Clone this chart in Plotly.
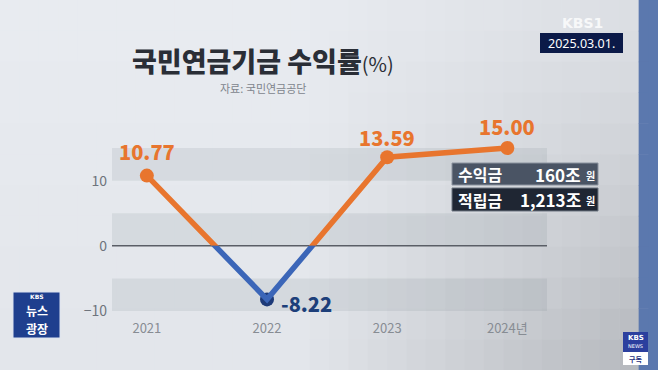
import plotly.graph_objects as go

years = ["2021", "2022", "2023", "2024년"]
returns = [10.77, -8.22, 13.59, 15.00]
value_labels = ["10.77", "-8.22", "13.59", "15.00"]
ytick_vals = [-10, 0, 10]
ytick_text = ["−10", "0", "10"]
title_text = "국민연금기금 수익률"
source_text = "자료: 국민연금공단"
date_text = "2025.03.01."
box_labels = ["수익금", "적립금"]
box_values = ["160조", "1,213조"]

W, H = 658, 370
ML, MR, MT, MB = 112, 111, 135, 59
PW, PH = W - ML - MR, H - MT - MB
YMIN, YMAX = -10, 17
z = (0 - YMIN) / (YMAX - YMIN)

def px(x):
    return (x - ML) / PW

def py(y):
    return (H - MB - y) / PH

ORANGE = "#E8752E"
BLUE = "#3B66B8"
NAVY = "#1D3A78"
FONT = "Noto Sans CJK KR"

xs = list(range(len(years)))
fig = go.Figure()
# orange part (clipped to above zero)
fig.add_trace(go.Scatter(x=xs, y=returns, mode="lines", line=dict(color=ORANGE, width=5.5),
                         yaxis="y2", hoverinfo="skip", showlegend=False))
# blue part (clipped to below zero)
fig.add_trace(go.Scatter(x=xs, y=returns, mode="lines", line=dict(color=BLUE, width=5.5),
                         yaxis="y3", hoverinfo="skip", showlegend=False))
# markers
mcolors = [ORANGE if v >= 0 else NAVY for v in returns]
fig.add_trace(go.Scatter(x=xs, y=returns, mode="markers", marker=dict(size=14, color=mcolors),
                         cliponaxis=False, showlegend=False))

shapes = []
# background gradient
nx, ny = 34, 12
cw, ch = W / nx, H / ny
for i in range(nx):
    for j in range(ny):
        cx, cy = (i + 0.5) * cw, (j + 0.5) * ch
        t = max(0.0, (cx - 300) / 350)
        u = cy / H
        d = 44 * t * (0.3 + 0.8 * u ** 1.3) + 6 * u
        r, g, b = int(233 - d), int(236 - d), int(241 - d)
        if cx > 648:
            r, g, b = 91, 120, 174
        shapes.append(dict(type="rect", xref="paper", yref="paper",
                           x0=px(i * cw), x1=px((i + 1) * cw + 0.5),
                           y0=py((j + 1) * ch + 0.5), y1=py(j * ch),
                           fillcolor=f"rgb({r},{g},{b})", line=dict(width=0), layer="below"))
# horizontal bands
for lo, hi in [(10, 15), (0, 5), (-10, -5)]:
    shapes.append(dict(type="rect", xref="paper", yref="y", x0=0, x1=1, y0=lo, y1=hi,
                       fillcolor="rgba(110,120,135,0.13)", line=dict(width=0), layer="below"))
# zero line
shapes.append(dict(type="line", xref="paper", yref="y", x0=0, x1=1, y0=0, y1=0,
                   line=dict(color="#5A5E66", width=1.5), layer="below"))
# date box
shapes.append(dict(type="rect", xref="paper", yref="paper", x0=px(540), x1=px(623), y0=py(53), y1=py(33),
                   fillcolor="#0B1A48", line=dict(width=0)))
# info boxes
shapes.append(dict(type="rect", xref="paper", yref="paper", x0=px(452), x1=px(598), y0=py(185), y1=py(163),
                   fillcolor="#4A5464", line=dict(width=1, color="#8A929E")))
shapes.append(dict(type="rect", xref="paper", yref="paper", x0=px(452), x1=px(598), y0=py(211), y1=py(188),
                   fillcolor="#1F2633", line=dict(width=1, color="#6E7682")))
# KBS 뉴스광장 logo
shapes.append(dict(type="rect", xref="paper", yref="paper", x0=px(13), x1=px(60), y0=py(338), y1=py(292),
                   fillcolor="#1F3F8E", line=dict(width=1, color="#DDE3F0")))
# KBS news subscribe logo
shapes.append(dict(type="rect", xref="paper", yref="paper", x0=px(623), x1=px(648), y0=py(365), y1=py(332),
                   fillcolor="#FFFFFF", line=dict(width=0)))
shapes.append(dict(type="rect", xref="paper", yref="paper", x0=px(623), x1=px(648), y0=py(352), y1=py(332),
                   fillcolor="#2B3F9E", line=dict(width=0)))

ann = []
def text(x, y, s, size, color, bold=False, xanchor="center", yanchor="middle", family=FONT, weight=None):
    f = dict(size=size, color=color, family=family)
    if weight:
        f["weight"] = weight
    ann.append(dict(x=px(x), y=py(y), xref="paper", yref="paper", text=(f"<b>{s}</b>" if bold else s),
                    showarrow=False, xanchor=xanchor, yanchor=yanchor, font=f))

# right blue bar (annotation block)
ann.append(dict(x=px(648), y=py(0), xref="paper", yref="paper", text=" ", showarrow=False,
                xanchor="left", yanchor="top", width=12, height=372, bgcolor="#5B78AE",
                borderpad=0, font=dict(size=1)))
# title
ann.append(dict(x=px(263), y=py(60), xref="paper", yref="paper",
                text=f"{title_text}<span style='font-size:20px;font-weight:400'>(%)</span>",
                showarrow=False, xanchor="center", yanchor="middle",
                font=dict(size=27, color="#2A2E36", family=FONT, weight=900)))
text(263, 88, source_text, 11, "#80858D")
text(581.5, 43.5, date_text, 12.5, "#FFFFFF", family="Noto Sans")
text(582, 23, "<b>KBS1</b>", 14, "rgba(255,255,255,0.8)", family="DejaVu Sans")
# info box text
text(456, 174, box_labels[0], 16, "#FFFFFF", bold=True, xanchor="left")
text(583, 174, box_values[0], 17, "#FFFFFF", bold=True, xanchor="right")
text(590, 175, "원", 10, "#FFFFFF", bold=True)
text(456, 199.5, box_labels[1], 16, "#FFFFFF", bold=True, xanchor="left")
text(583, 199.5, box_values[1], 17, "#FFFFFF", bold=True, xanchor="right")
text(590, 200.5, "원", 10, "#FFFFFF", bold=True)
# logos text
text(36.5, 296, "<b>KBS</b>", 6, "#FFFFFF", family="DejaVu Sans")
text(36.5, 310, "뉴스", 12, "#FFFFFF", bold=True)
text(36.5, 328, "광장", 12, "#FFFFFF", bold=True)
text(635.5, 338, "<b>KBS</b>", 7, "#FFFFFF", family="DejaVu Sans")
text(635.5, 346, "NEWS", 5, "#FFFFFF", family="DejaVu Sans")
text(635.5, 359, "구독", 7, "#1E2F80", bold=True)

# value labels on data
offsets = [(0, 24), (39, -4), (0, 20), (0, 22)]
for i, (v, lab) in enumerate(zip(returns, value_labels)):
    ann.append(dict(x=xs[i], y=v, xref="x", yref="y", text=lab, showarrow=False,
                    xshift=offsets[i][0], yshift=offsets[i][1],
                    font=dict(size=20, color=ORANGE if v >= 0 else "#1D3F7A", family=FONT, weight=900)))

fig.update_layout(
    width=W, height=H,
    margin=dict(l=ML, r=MR, t=MT, b=MB, autoexpand=False),
    paper_bgcolor="#E4E7EC", plot_bgcolor="rgba(0,0,0,0)",
    showlegend=False,
    xaxis=dict(range=[-0.29, 3.33], tickvals=xs, ticktext=years, showgrid=False, zeroline=False,
               showline=False, ticks="", ticklabelstandoff=8,
               tickfont=dict(size=13, color="#878C93", family=FONT)),
    yaxis=dict(range=[YMIN, YMAX], domain=[0, 1], tickvals=ytick_vals, ticktext=ytick_text,
               showgrid=False, zeroline=False, showline=False, ticks="", ticklabelstandoff=4,
               tickfont=dict(size=14, color="#6F747C", family=FONT)),
    yaxis2=dict(range=[0, YMAX], domain=[z, 1], anchor="x", visible=False),
    yaxis3=dict(range=[YMIN, 0], domain=[0, z], anchor="x", visible=False),
    shapes=shapes, annotations=ann,
)

fig.write_html("out.html", config={"displayModeBar": False},
               post_script="document.body.style.margin='0';document.body.style.overflow='hidden';")
